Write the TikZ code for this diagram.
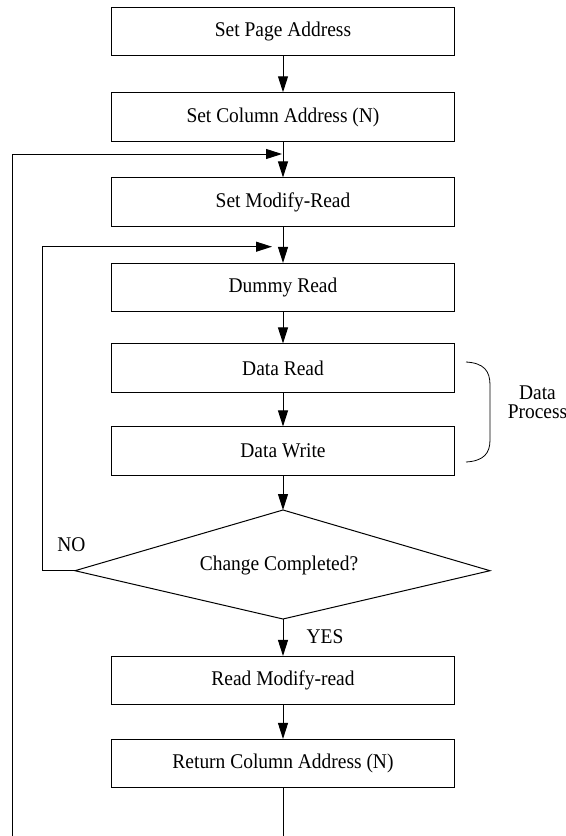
\documentclass[tikz,border=0pt]{standalone}
\usepackage{fontspec}
\setmainfont{Liberation Serif}[FakeStretch=0.93]
\usetikzlibrary{arrows.meta}
\begin{document}
\begin{tikzpicture}[x=1bp,y=-1bp,
  every node/.style={font=\fontsize{21}{19}\selectfont},
  stepbox/.style={draw,rectangle,line width=1bp,minimum width=342bp,minimum height=48.5bp,inner sep=0pt},
  flow/.style={line width=1bp},
  arr/.style={flow,-{Triangle[length=16bp,width=10bp]}},
  lbl/.style={inner sep=0pt}]
\useasboundingbox (0,0) rectangle (566,836);
\fill[white] (0,0) rectangle (566,836);
\node[stepbox] (b1) at (283,31.5) {Set Page Address};
\node[stepbox] (b2) at (283,117) {Set Column Address (N)};
\node[stepbox] (b3) at (283,202.2) {Set Modify-Read};
\node[stepbox] (b4) at (283,287.7) {Dummy Read};
\node[stepbox] (b5) at (283,368.2) {Data Read};
\node[stepbox] (b6) at (283,451.2) {Data Write};
\node[stepbox] (b7) at (283,680.7) {Read Modify-read};
\node[stepbox] (b8) at (283,763.7) {Return Column Address (N)};
\coordinate (dt) at (283,510);
\coordinate (dl) at (75,570.7);
\coordinate (dr) at (490,570.7);
\coordinate (db) at (283,619);
\draw[flow] (dt) -- (dr) -- (db) -- (dl) -- cycle;
\node[lbl] (dec) at (279,565) {Change Completed?};
\node[lbl] (no) at (71.5,545) {NO};
\node[lbl] (yes) at (325,637) {YES};
\node[lbl,align=center] (dp) at (537.5,402) {Data\\Process};
\draw[arr] (b1.south) -- (b2.north);
\draw[arr] (b2.south) -- (b3.north);
\draw[arr] (b3.south) -- (b4.north);
\draw[arr] (b4.south) -- (b5.north);
\draw[arr] (b5.south) -- (b6.north);
\draw[arr] (b6.south) -- (dt);
\draw[arr] (db) -- (b7.north);
\draw[arr] (b7.south) -- (b8.north);
\coordinate (endb) at (283,836);
\draw[flow] (b8.south) -- (endb);
\coordinate (o1) at (12.7,836);
\coordinate (o2) at (12.7,154);
\coordinate (o3) at (282,154);
\draw[arr] (o1) -- (o2) -- (o3);
\coordinate (i1) at (42.3,570.7);
\coordinate (i2) at (42.3,246.7);
\coordinate (i3) at (272,246.7);
\draw[arr] (dl) -- (i1) -- (i2) -- (i3);
\draw[line width=0.8bp] (466,362) .. controls (484,363) and (490,371) .. (490,385) -- (490,440) .. controls (490,453) and (484,461) .. (466,462);
\end{tikzpicture}
\end{document}
